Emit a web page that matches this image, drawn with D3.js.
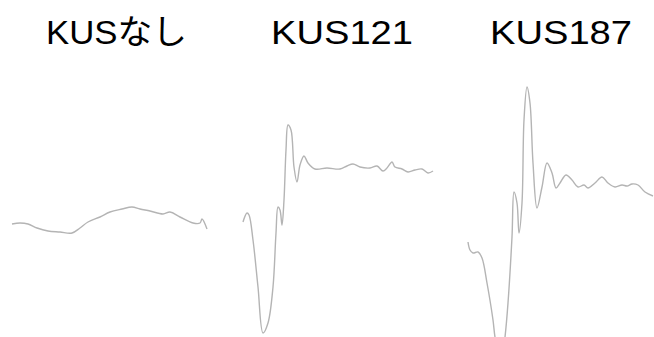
<!DOCTYPE html>
<html>
<head>
<meta charset="utf-8">
<script src="https://cdn.jsdelivr.net/npm/d3@7"></script>
<style>
  html, body { margin: 0; padding: 0; background: #fff; }
  svg { display: block; }
</style>
</head>
<body>
<svg id="chart" width="654" height="337"></svg>
<script>
// Panel titles
const titles = ["KUSなし", "KUS121", "KUS187"];

// Time (ms) and amplitude (µV) samples per trace
const t1 = [0, 8, 16, 25, 36, 48, 60, 68, 76, 88, 98, 110, 120, 128, 138, 151, 158, 168, 181, 188, 190, 195];
const v1 = [6, 7, 6, 2, -1, -2, -3, 2, 8, 13, 18, 21, 23, 21, 19, 16, 18, 13, 7, 7, 11, 1];

const t2 = [1, 5, 7, 11, 16, 21, 26, 31, 34, 36, 38, 40, 42, 44, 46, 49, 52, 55, 58, 62, 66, 73, 85, 98, 105, 111, 118, 128, 135, 141, 145, 150, 153, 160, 166, 173, 180, 186, 191];
const v2 = [8, 17, 15, -10, -57, -103, -93, -57, -3, 23, 20, 5, 30, 80, 105, 100, 63, 48, 65, 74, 67, 61, 62, 61, 64, 66, 63, 62, 64, 59, 62, 68, 63, 61, 58, 60, 61, 57, 59];

const t3 = [0, 2, 5, 10, 14, 19, 25, 27, 33, 37, 40, 44, 46, 49, 51, 54, 56, 59, 62, 65, 69, 74, 79, 84, 88, 92, 98, 104, 110, 116, 120, 127, 134, 140, 147, 154, 159, 164, 170, 177, 185];
const v3 = [-12, -20, -23, -22, -28, -53, -90, -107, -135, -107, -73, -7, 38, 27, -3, 27, 110, 143, 127, 67, 22, 43, 67, 57, 42, 47, 55, 50, 43, 45, 42, 47, 53, 47, 43, 45, 44, 46, 45, 38, 34];

const timeSeries = [t1, t2, t3];
const valueSeries = [v1, v2, v3];

const svg = d3.select("#chart");

// Layout of the three panels
const panelLeft = [12, 242, 468];
const panelWidth = 200;
const titleLeft = [46, 271, 490];
const titleWidth = [141, 142, 142];

const y = d3.scaleLinear().domain([-110, 150]).range([340, 80]);

titles.forEach((title, i) => {
  const x = d3.scaleLinear().domain([0, 200]).range([panelLeft[i], panelLeft[i] + panelWidth]);
  const data = timeSeries[i].map((t, j) => ({ t, v: valueSeries[i][j] }));
  const line = d3.line()
    .x(d => x(d.t))
    .y(d => y(d.v))
    .curve(d3.curveCatmullRom.alpha(0.5));

  svg.append("path")
    .datum(data)
    .attr("d", line)
    .attr("fill", "none")
    .attr("stroke", "#b4b4b4")
    .attr("stroke-width", 1.4)
    .attr("stroke-linejoin", "round");

  svg.append("text")
    .attr("x", titleLeft[i])
    .attr("y", 44)
    .attr("text-anchor", "start")
    .attr("textLength", titleWidth[i])
    .attr("lengthAdjust", "spacingAndGlyphs")
    .attr("font-family", "'Liberation Sans', Arial, 'Noto Sans CJK JP', sans-serif")
    .attr("font-size", 34)
    .attr("fill", "#000")
    .text(title);
});
</script>
</body>
</html>
